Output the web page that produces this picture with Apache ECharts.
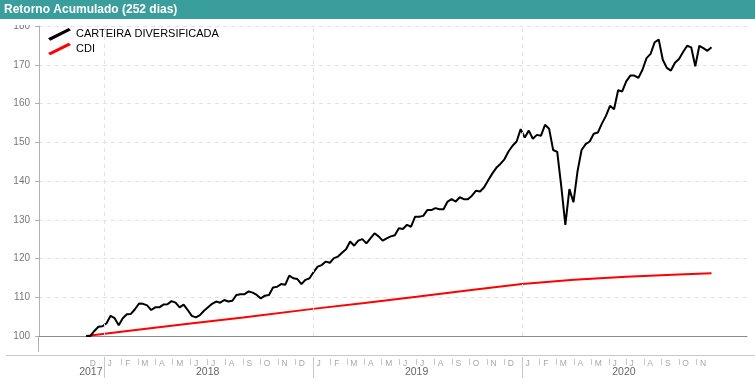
<!DOCTYPE html>
<html><head><meta charset="utf-8">
<script src="https://cdn.jsdelivr.net/npm/echarts@6/dist/echarts.min.js"></script>
<style>html,body{margin:0;padding:0;background:#fff}#c{width:755px;height:385px}</style>
</head><body><div id="c"></div>
<script>
const titleText = 'Retorno Acumulado (252 dias)';
const seriesNames = ['CARTEIRA DIVERSIFICADA', 'CDI'];
const carteiraStart = [2017, 11, 1];
const carteiraEnd = [2020, 10, 27];
const carteiraValues = [
100,100,101.3,102.4,102.5,103.3,105.2,104.6,102.8,104.6,
105.6,105.7,106.9,108.4,108.3,107.9,106.7,107.4,107.4,108.1,
108.2,109.0,108.6,107.4,108.1,106.7,105.2,104.8,105.4,106.5,
107.4,108.3,108.9,108.6,109.3,108.9,109.1,110.6,110.8,110.8,
111.5,111.2,110.6,109.7,110.4,110.6,112.5,112.7,113.4,113.2,
115.6,114.9,114.7,113.4,114.5,114.9,116.5,117.9,118.3,119.2,
118.9,120.1,120.5,121.5,122.4,124.4,123.3,124.6,125.0,123.9,
125.2,126.5,125.7,124.6,125.2,125.7,126.0,127.8,127.6,128.7,
128.2,130.8,130.8,131.0,132.5,132.5,133.0,132.7,132.7,134.7,
135.3,134.7,135.8,135.3,135.3,136.2,137.5,137.3,138.4,140.2,
141.9,143.4,144.4,145.6,147.6,149.1,150.2,153.4,151.2,153.0,
150.9,151.9,151.7,154.5,153.5,148.0,147.5,138.6,128.7,137.9,
134.5,142.5,148.0,149.5,150.2,152.2,152.5,154.8,156.8,159.4,
158.5,163.4,163.1,165.7,167.2,167.2,166.6,168.7,171.7,172.8,
175.8,176.5,171.3,169.2,168.5,170.5,171.5,173.3,174.9,174.5,
169.6,174.9,174.3,173.6,174.5
];
const cdiDates = ['2017-12-01','2018-03-01','2018-06-01','2018-09-01','2019-01-01','2019-04-01','2019-07-01','2019-10-01','2020-01-01','2020-04-01','2020-07-01','2020-10-01','2020-11-27'];
const cdiValues = [100, 101.6, 103.2, 104.8, 107.0, 108.5, 110.1, 111.8, 113.4, 114.5, 115.3, 115.9, 116.2];
const yTickMin = 100, yTickMax = 180, yTickStep = 10;
const monthLetters = ['J','F','M','A','M','J','J','A','S','O','N','D'];
const yearList = [2017, 2018, 2019, 2020];

function utc(s) { const p = s.split('-').map(Number); return Date.UTC(p[0], p[1]-1, p[2]); }
const DAY = 86400000;
const t0 = Date.UTC(...carteiraStart), t1 = Date.UTC(...carteiraEnd);
const carteiraData = carteiraValues.map((v, i) => [t0 + (t1 - t0) * i / (carteiraValues.length - 1), v]);
const cdiData = cdiDates.map((d, i) => [utc(d), cdiValues[i]]);

const axMin = Date.UTC(2017, 8, 9, 12), axMax = Date.UTC(2021, 0, 28);
const monthStarts = [], monthTicks = [];
for (let y = 2017; y <= 2020; y++) for (let m = 0; m < 12; m++) {
  const t = Date.UTC(y, m, 1);
  if (t < Date.UTC(2017, 11, 1) || t > Date.UTC(2020, 10, 1)) continue;
  monthStarts.push(t + 6 * DAY);
  if (m !== 0 && t > Date.UTC(2017, 11, 1)) monthTicks.push(t);
}
const yearStarts = yearList.slice(1).map(y => Date.UTC(y, 0, 1));
const yearMids = [Date.UTC(2017, 11, 9), Date.UTC(2018, 6, 1), Date.UTC(2019, 6, 1), Date.UTC(2020, 5, 27)];

const chart = echarts.init(document.getElementById('c'), null, {renderer: 'canvas'});
const FONT = 'Liberation Sans, Arial, Helvetica, sans-serif';
chart.setOption({
  animation: false,
  backgroundColor: '#fff',
  textStyle: {fontFamily: FONT},
  title: {text: titleText, left: 4, top: 4, padding: 0, z: 60,
    textStyle: {color: '#fff', fontSize: 12, fontWeight: 'bold', fontFamily: FONT}},
  graphic: [
    {type: 'rect', z: 50, shape: {x: 0, y: 19, width: 755, height: 6}, style: {fill: '#fff'}},
    {type: 'rect', z: 50, shape: {x: 0, y: 0, width: 755, height: 19}, style: {fill: '#3a9e9c'}},
    {type: 'line', z: 1, shape: {x1: 6, y1: 355.5, x2: 755, y2: 355.5}, style: {stroke: '#c8c8c8', lineWidth: 1}},
    {type: 'line', z: 1, shape: {x1: 38.5, y1: 336, x2: 38.5, y2: 352}, style: {stroke: '#b0b0b0', lineWidth: 1}}
  ],
  legend: {
    left: 48, top: 28, padding: 0, orient: 'vertical', itemGap: 2, itemWidth: 23, itemHeight: 13,
    icon: 'path://M1,11 L19,2 L21,4 L3,13 Z',
    textStyle: {fontSize: 11, color: '#000', fontFamily: FONT},
    data: seriesNames
  },
  grid: {left: 39, right: 8, top: 26, bottom: 49},
  xAxis: [
    {type: 'value', min: axMin, max: axMax, position: 'bottom', offset: 0,
     axisLine: {show: true, lineStyle: {color: '#8a8a8a', width: 1}},
     axisTick: {show: false}, axisLabel: {show: false}, splitLine: {show: false}},
    {type: 'value', min: axMin, max: axMax, position: 'bottom', offset: 23,
     axisLine: {show: false},
     axisTick: {show: true, customValues: monthTicks, length: 6, lineStyle: {color: '#c8c8c8'}},
     axisLabel: {show: true, customValues: monthStarts, margin: 0, fontSize: 8.5, color: '#a8a8a8', align: 'left',
       formatter: v => monthLetters[new Date(v).getUTCMonth()]},
     splitLine: {show: false}},
    {type: 'value', min: axMin, max: axMax, position: 'bottom', offset: 21,
     axisLine: {show: false},
     axisTick: {show: true, customValues: yearStarts, length: 21, lineStyle: {color: '#c8c8c8'}},
     axisLabel: {show: true, customValues: yearMids, margin: 10, fontSize: 10.5, color: '#666',
       formatter: v => String(new Date(v).getUTCFullYear())},
     splitLine: {show: false}}
  ],
  yAxis: {
    type: 'value', min: yTickMin, max: yTickMax, interval: yTickStep,
    axisLine: {show: true, lineStyle: {color: '#b0b0b0'}},
    axisTick: {show: true, length: 4, lineStyle: {color: '#b0b0b0'}},
    axisLabel: {fontSize: 10, color: '#777', margin: 9},
    splitLine: {show: true, lineStyle: {color: '#e2e2e2', type: [4, 4], width: 1}}
  },
  series: [
    {name: seriesNames[0], type: 'line', data: carteiraData, showSymbol: false, symbol: 'none',
     xAxisIndex: 0, z: 3,
     lineStyle: {color: '#000', width: 2}, itemStyle: {color: '#000'},
     markLine: {silent: true, symbol: 'none', label: {show: false},
       lineStyle: {color: '#e2e2e2', type: [4, 4], width: 1},
       data: yearStarts.map(t => ({xAxis: t}))}},
    {name: seriesNames[1], type: 'line', data: cdiData, showSymbol: false, symbol: 'none',
     xAxisIndex: 0, z: 2,
     lineStyle: {color: '#ff0000', width: 2}, itemStyle: {color: '#ff0000'}}
  ]
});
</script></body></html>
